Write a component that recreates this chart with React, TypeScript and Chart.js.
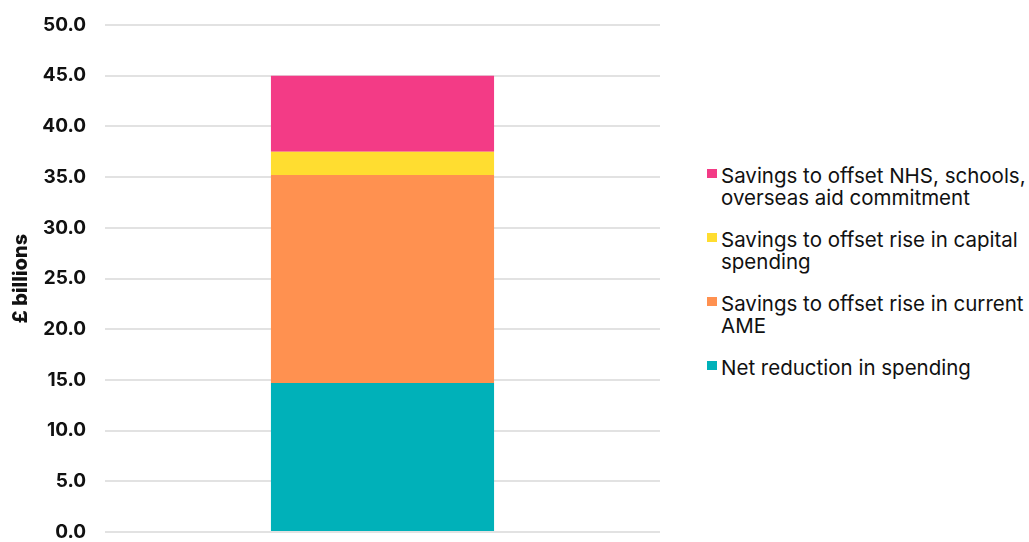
import React, { useEffect, useRef } from "react";
import { Chart, registerables } from "chart.js";

Chart.register(...registerables);

const categories: string[] = [""];
const netReduction: number[] = [14.7];
const currentAME: number[] = [20.5];
const capitalSpending: number[] = [2.3];
const nhsSchoolsAid: number[] = [7.5];

const seriesLabels: string[][] = [
  ["Net reduction in spending"],
  ["Savings to offset rise in current", "AME"],
  ["Savings to offset rise in capital", "spending"],
  ["Savings to offset NHS, schools,", "overseas aid commitment"],
];
const seriesColors: string[] = ["#00B1B9", "#FF9150", "#FFDD30", "#F33B86"];
const seriesValues: number[][] = [netReduction, currentAME, capitalSpending, nhsSchoolsAid];

const yMin = 0;
const yMax = 50;
const yStep = 5;
const yTitle = "£ billions";

export default function App() {
  const canvasRef = useRef<HTMLCanvasElement | null>(null);

  useEffect(() => {
    if (!canvasRef.current) return;
    const chart = new Chart(canvasRef.current, {
      type: "bar",
      data: {
        labels: categories,
        datasets: seriesValues.map((vals, i) => ({
          label: seriesLabels[i].join(" "),
          data: vals,
          backgroundColor: seriesColors[i],
          borderWidth: 0,
          categoryPercentage: 1,
          barPercentage: 0.402,
        })),
      },
      options: {
        animation: false,
        responsive: true,
        maintainAspectRatio: false,
        layout: { padding: { top: 25, bottom: 10, left: 0, right: 20 } },
        plugins: {
          legend: { display: false },
          tooltip: { enabled: false },
          title: { display: false },
        },
        scales: {
          x: {
            stacked: true,
            display: false,
          },
          y: {
            stacked: true,
            min: yMin,
            max: yMax,
            border: { display: false },
            grid: { color: "#E2E2E2", lineWidth: 2, drawTicks: false },
            ticks: {
              stepSize: yStep,
              padding: 19,
              color: "#111111",
              font: { family: "Inter", weight: "bold", size: 19 },
              callback: (v: any) => Number(v).toFixed(1),
            },
            title: {
              display: true,
              text: yTitle,
              color: "#111111",
              font: { family: "Inter", weight: 800, size: 20 },
              padding: { top: 9, bottom: 0 },
            },
            afterFit: (scale: any) => {
              scale.width = 105;
              scale.paddingTop = 0;
              scale.paddingBottom = 0;
            },
          },
        },
      },
    });
    return () => chart.destroy();
  }, []);

  const legendOrder = [3, 2, 1, 0];

  return (
    <div style={{ position: "fixed", left: 0, top: 0, width: 1029, height: 542, background: "#fff" }}>
      <div style={{ position: "absolute", left: 0, top: 0, width: 680, height: 542 }}>
        <canvas ref={canvasRef} />
      </div>
      <div style={{ position: "absolute", left: 707, top: 165, fontFamily: "Inter", fontSize: 20.5, lineHeight: "22px", color: "#111" }}>
        {legendOrder.map((i) => (
          <div key={i} style={{ position: "relative", marginBottom: 20, minHeight: 44, paddingLeft: 14 }}>
            <span style={{ position: "absolute", left: 0, top: 4, width: 10, height: 9, background: seriesColors[i] }} />
            {seriesLabels[i].map((line, j) => (
              <div key={j} style={{ whiteSpace: "nowrap" }}>{line}</div>
            ))}
          </div>
        ))}
      </div>
    </div>
  );
}
